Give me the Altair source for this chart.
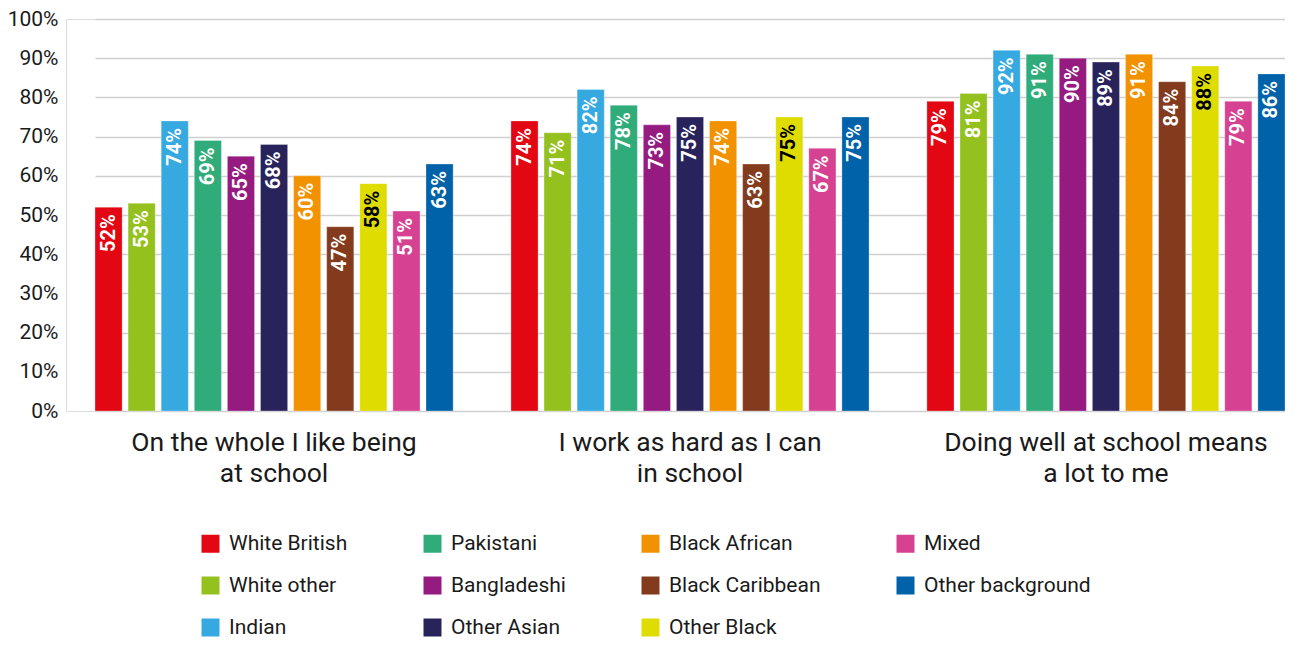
import altair as alt
import pandas as pd

cat_lines = [
    ["On the whole I like being", "at school"],
    ["I work as hard as I can", "in school"],
    ["Doing well at school means", "a lot to me"],
]
categories = [" ".join(l) for l in cat_lines]

groups = ["White British", "White other", "Indian", "Pakistani", "Bangladeshi",
          "Other Asian", "Black African", "Black Caribbean", "Other Black",
          "Mixed", "Other background"]
colors = ["#E30613", "#95C11F", "#36A9E1", "#2FAC7A", "#951B81", "#29235C",
          "#F39200", "#833A1D", "#DEDC00", "#D64291", "#0062A8"]

vals_q1 = [52, 53, 74, 69, 65, 68, 60, 47, 58, 51, 63]
vals_q2 = [74, 71, 82, 78, 73, 75, 74, 63, 75, 67, 75]
vals_q3 = [79, 81, 92, 91, 90, 89, 91, 84, 88, 79, 86]

rows = []
for cat, vals in zip(categories, [vals_q1, vals_q2, vals_q3]):
    for g, v in zip(groups, vals):
        rows.append({"question": cat, "group": g, "value": v})
df = pd.DataFrame(rows)

label_expr = " : ".join(
    f"datum.label == '{c}' ? ['{l[0]}', '{l[1]}']" for c, l in zip(categories, cat_lines)
) + " : datum.label"

FONT = "Roboto"

base = alt.Chart(df).encode(
    x=alt.X("question:N", sort=categories, title=None,
            scale=alt.Scale(range=[29, 1219], paddingInner=0.139, paddingOuter=0),
            axis=alt.Axis(labelExpr=label_expr, labelAngle=0, labelFontSize=26.5,
                          labelColor="#1a1a1a", labelFont=FONT, labelPadding=18,
                          labelLineHeight=31, labelBaseline="top", labelLimit=0,
                          domain=False, ticks=False)),
    xOffset=alt.XOffset("group:N", sort=groups,
                        scale=alt.Scale(paddingInner=0.18, paddingOuter=0)),
    y=alt.Y("value:Q", title=None,
            scale=alt.Scale(domain=[0, 100], nice=False),
            axis=alt.Axis(values=list(range(0, 101, 10)), labelExpr="datum.value + '%'",
                          labelFontSize=21, labelColor="#1a1a1a", labelFont=FONT,
                          labelPadding=8, domain=False, ticks=False,
                          gridColor="#d0d0d0", gridWidth=1.6)),
)

bars = base.mark_bar(stroke="white", strokeWidth=0.6, strokeOpacity=0.5).encode(
    color=alt.Color("group:N", scale=alt.Scale(domain=groups, range=colors),
                    legend=alt.Legend(title=None, orient="none", legendX=134, legendY=514,
                                      columns=4, columnPadding=74, rowPadding=20,
                                      symbolType="square", symbolSize=324,
                                      symbolStrokeWidth=0, labelFontSize=21,
                                      labelFont=FONT, labelColor="#1a1a1a",
                                      labelOffset=8, labelLimit=300))
)

texts = base.mark_text(angle=270, align="right", baseline="middle", dx=-7,
                       fontSize=20, fontWeight="bold", font=FONT).transform_calculate(
    lab="datum.value + '%'"
).encode(
    text="lab:N",
    color=alt.condition(alt.datum.group == "Other Black", alt.value("black"), alt.value("white")),
)

chart = alt.layer(bars, texts).properties(
    width=1219, height=392,
    autosize=alt.AutoSizeParams(type="none"),
    padding={"left": 58, "top": 11, "right": 0, "bottom": 227},
).configure_view(stroke=None).configure(background="white")

chart.save("out.html", embed_options={"renderer": "svg", "actions": False})
